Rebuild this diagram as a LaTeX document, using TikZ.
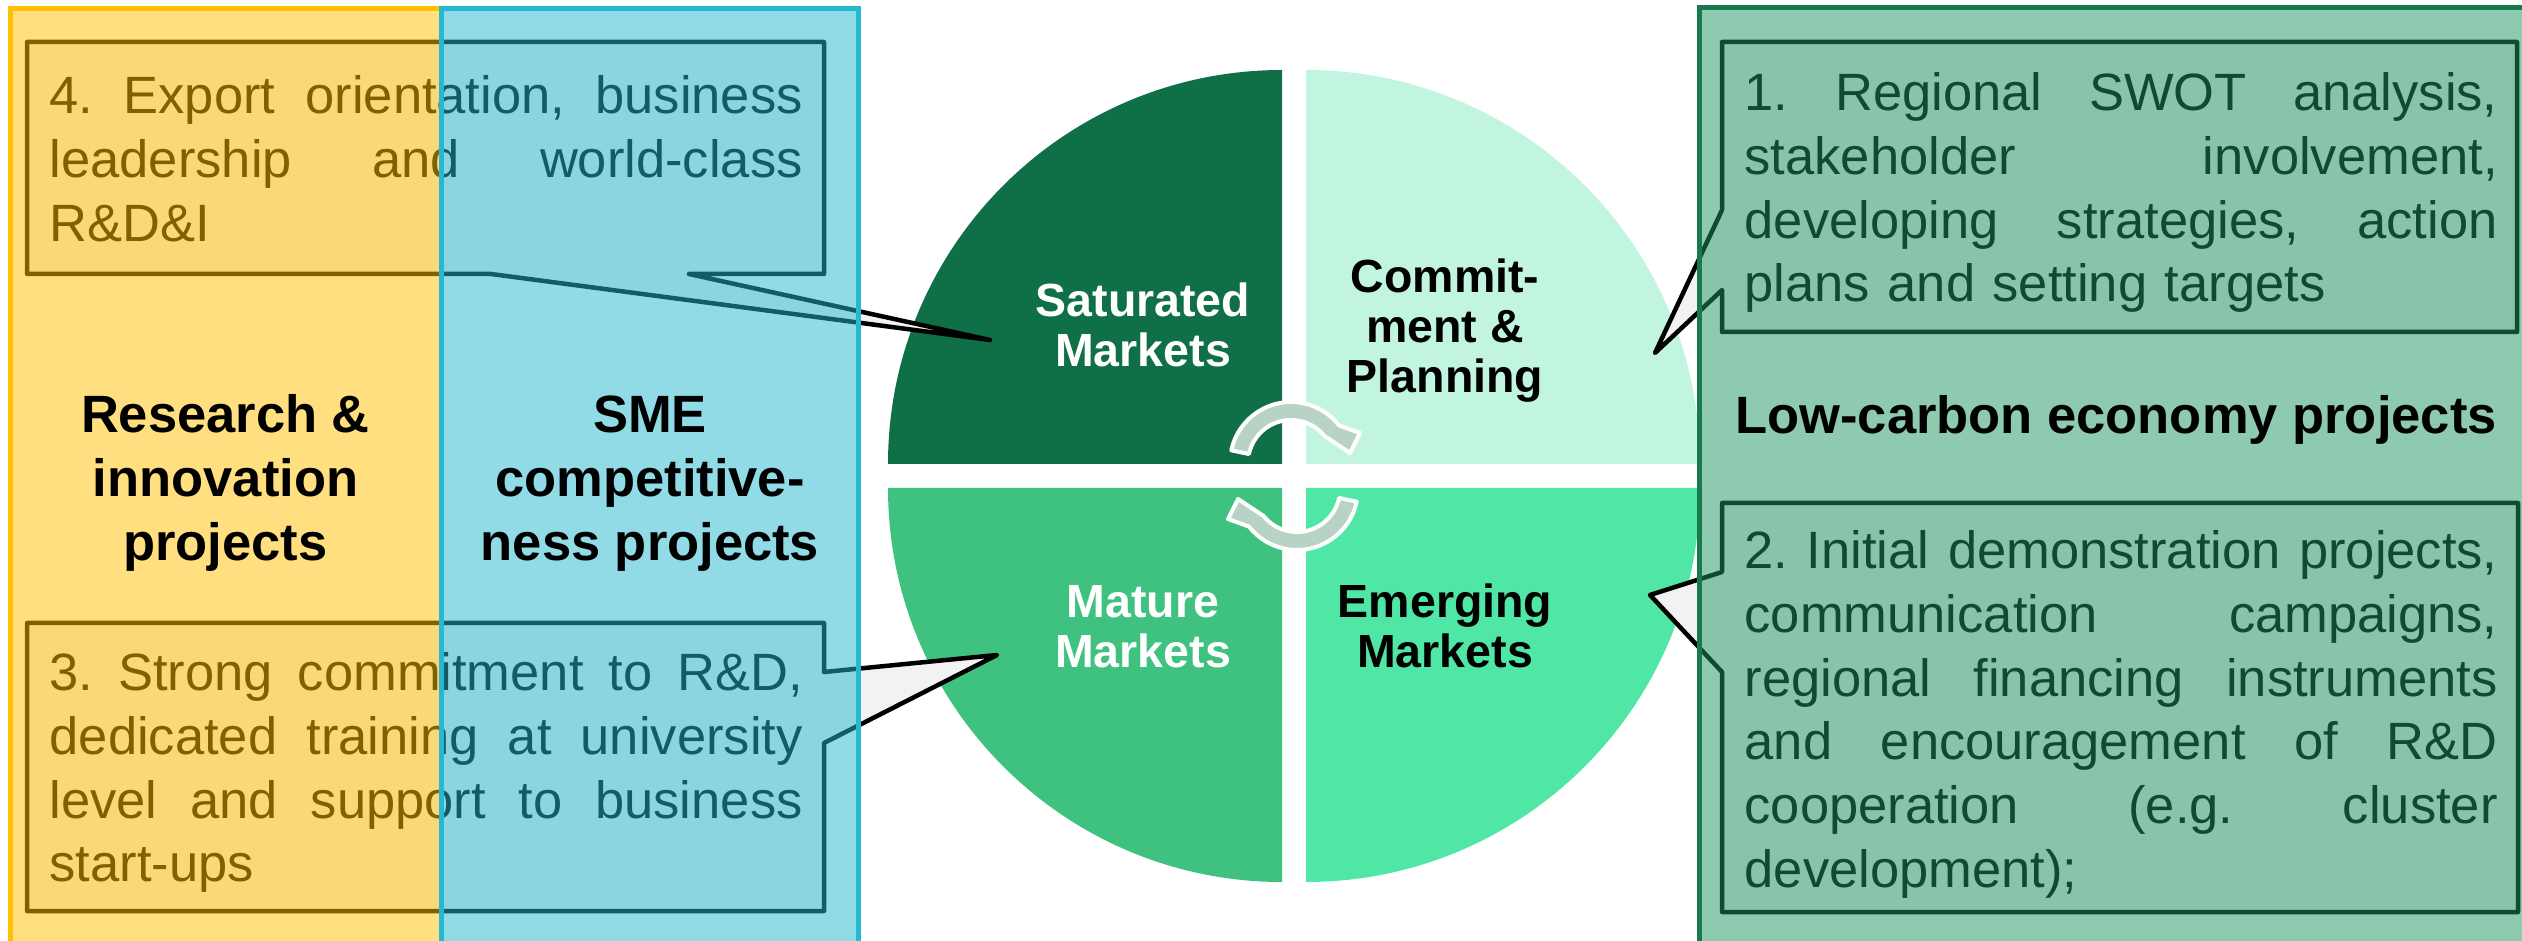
\documentclass[tikz,border=0pt]{standalone}
\usepackage{fontspec}
\setmainfont{Liberation Sans}
\usetikzlibrary{calc}
\definecolor{ycol}{HTML}{FFC000}
\definecolor{bcol}{HTML}{25B9D1}
\definecolor{gcol}{HTML}{1F9761}
\definecolor{gborder}{HTML}{18794C}
\definecolor{calfill}{HTML}{F2F2F2}
\definecolor{qtl}{HTML}{0F6F46}
\definecolor{qtr}{HTML}{C2F5DF}
\definecolor{qbl}{HTML}{3FC27F}
\definecolor{qbr}{HTML}{50E6A6}
\definecolor{arrfill}{HTML}{B8D3C5}
% a justified line: words separated by \jg (a space that stretches)
\newcommand\justline[1]{\leavevmode\hbox to 225.9pt{\strut #1}}
\newcommand\jg{\ \hfill}
\begin{document}
\begin{tikzpicture}[x=0.3pt,y=0.3pt,
  cycarrow/.style={fill=arrfill, draw=white, line width=1.2pt, line join=round},
  callout/.style={fill=calfill, draw=black, line width=1.35pt, line join=round},
  band/.style={fill=#1, draw=#1, fill opacity=0.5, line width=1.5pt},
  caltext/.style={anchor=north west, inner sep=0pt, text width=225.9pt, align=left,
    font={\fontsize{15.75pt}{19.11pt}\selectfont\frenchspacing}},
  biglabel/.style={anchor=north, inner sep=0pt, align=center,
    font={\fontsize{15.75pt}{19.11pt}\selectfont\bfseries}},
  pielabel/.style={anchor=north, inner sep=0pt, align=center,
    font={\fontsize{13.95pt}{15pt}\selectfont\bfseries}}]
\useasboundingbox (0,0) rectangle (2522,940);
\fill[white] (0,0) rectangle (2522,940);
\clip (0,0) rectangle (2522,940);

% pie quadrants
\fill[qtl] (1282,476) -- ++(-394,0) arc[start angle=180, end angle=90, radius=394] -- cycle;
\fill[qtr] (1306,476) -- ++(0,394) arc[start angle=90, end angle=0, radius=394] -- cycle;
\fill[qbl] (1282,452) -- ++(0,-394) arc[start angle=270, end angle=180, radius=394] -- cycle;
\fill[qbr] (1306,452) -- ++(394,0) arc[start angle=0, end angle=-90, radius=394] -- cycle;

% cycle arrows
\coordinate (ca) at (1291,477);
\coordinate (cb) at (1297,451);
\coordinate (tipa) at (1350,487);
\coordinate (tipb) at (1238,441);
\path[cycarrow] ($(ca)+(168:43)$) -- ($(ca)+(168:61)$) arc[start angle=168, end angle=38, radius=61]
  -- (1360,507) -- (tipa) -- (1326,503) -- ($(ca)+(38:43)$)
  arc[start angle=38, end angle=168, radius=43] -- cycle;
\path[cycarrow] ($(cb)+(-12:43)$) -- ($(cb)+(-12:61)$) arc[start angle=-12, end angle=-142, radius=61]
  -- (1228,421) -- (tipb) -- (1262,425) -- ($(cb)+(-142:43)$)
  arc[start angle=-142, end angle=-12, radius=43] -- cycle;

% pie labels
\node[pielabel, text=white] (sat) at (1143,659) {\strut Saturated\\\strut Markets};
\node[pielabel] (com) at (1445,683) {\strut Commit-\\\strut ment \&\\\strut Planning};
\node[pielabel, text=white] (mat) at (1143,358) {\strut Mature\\\strut Markets};
\node[pielabel] (eme) at (1445,358) {\strut Emerging\\\strut Markets};

% callouts
\coordinate (tip4) at (990,600);
\coordinate (tip3) at (997,285);
\coordinate (tip1) at (1655,587);
\coordinate (tip2) at (1650,345);
\path[callout] (27,898) -- (824,898) -- (824,666) -- (689,666) -- (tip4) -- (491,666) -- (27,666) -- cycle;
\path[callout] (27,317) -- (824,317) -- (824,268) -- (tip3) -- (824,197) -- (824,29) -- (27,29) -- cycle;
\path[callout] (1722,898) -- (2517,898) -- (2517,608) -- (1722,608) -- (1722,650) -- (tip1) -- (1722,730) -- cycle;
\path[callout] (1722,437) -- (2518,437) -- (2518,28) -- (1722,28) -- (1722,268) -- (tip2) -- (1722,368) -- cycle;

\node[caltext] (t4) at (49,871.6) {\justline{4.\jg Export\jg orientation,\jg business}\\
  \justline{leadership\jg and\jg world-class}\\ \strut R\&D\&I};
\node[caltext] (t3) at (49,294.6) {\justline{3.\jg Strong\jg commitment\jg to\jg R\&D,}\\
  \justline{dedicated\jg training\jg at\jg university}\\
  \justline{level\jg and\jg support\jg to\jg business}\\
  \strut start-ups};
\node[caltext] (t1) at (1744,874.6) {\justline{1.\jg Regional\jg SWOT\jg analysis,}\\
  \justline{stakeholder\jg involvement,}\\
  \justline{developing\jg strategies,\jg action}\\
  \strut plans and setting targets};
\node[caltext] (t2) at (1744,416.6) {\justline{2.\jg Initial\jg demonstration\jg projects,}\\
  \justline{communication\jg campaigns,}\\
  \justline{regional\jg financing\jg instruments}\\
  \justline{and\jg encouragement\jg of\jg R\&D}\\
  \justline{cooperation\jg (e.g.\jg cluster}\\
  \strut development);};

% translucent project bands
\path[band=ycol] (10,-20) rectangle (441,931);
\path[band=bcol] (441,-20) rectangle (858.5,931);
\path[band=gcol, draw=gborder] (1699,-20) rectangle (2560,932);

% band titles
\node[biglabel] (rlab) at (225.5,552.6) {\strut Research \&\\\strut innovation\\\strut projects};
\node[biglabel] (slab) at (650,552.6) {\strut SME\\\strut competitive-\\\strut ness projects};
\node[biglabel] (llab) at (2116,551.6) {\strut Low-carbon economy projects};
\end{tikzpicture}
\end{document}
